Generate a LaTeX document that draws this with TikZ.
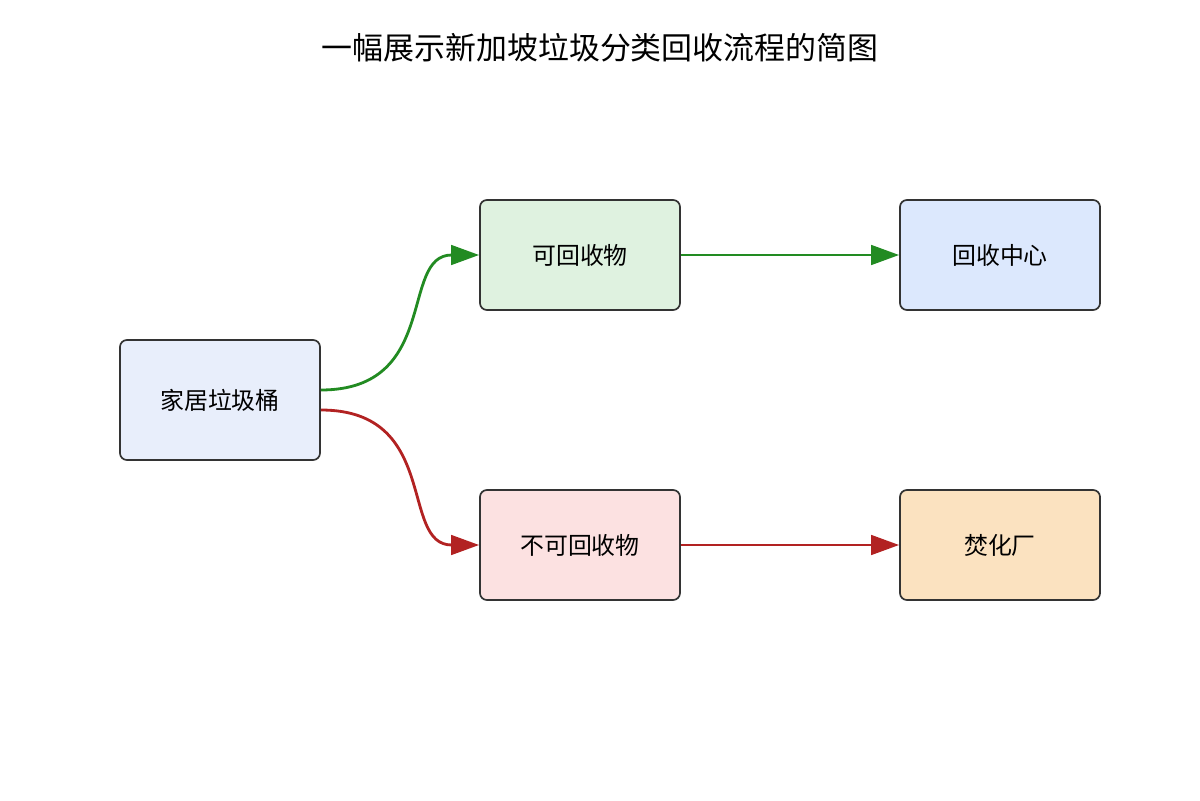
\documentclass[tikz,border=0pt]{standalone}
\usepackage{fontspec}
\setmainfont{Noto Sans CJK SC}
\usetikzlibrary{arrows.meta}
\definecolor{gr}{HTML}{228B22}
\definecolor{rd}{HTML}{B22222}
\definecolor{f1}{HTML}{E8EEFB}
\definecolor{f2}{HTML}{DFF2E0}
\definecolor{f3}{HTML}{DCE8FD}
\definecolor{f4}{HTML}{FCE1E1}
\definecolor{f5}{HTML}{FBE2C0}
\begin{document}
\begin{tikzpicture}[x=0.025cm,y=-0.025cm,
  box/.style={draw=black!80,line width=1.2pt,rounded corners=5pt,minimum width=5cm,minimum height=2.75cm,font=\fontsize{17}{20}\selectfont,inner sep=0pt},
  arr/.style={line width=2pt,-{Triangle[length=20pt,width=14pt]}}]
\useasboundingbox (0,0) rectangle (1200,800);
\node[font=\fontsize{22}{26}\selectfont] (t) at (600,48) {一幅展示新加坡垃圾分类回收流程的简图};
\node[box,fill=f1,minimum height=3cm] (bin) at (220,400) {家居垃圾桶};
\node[box,fill=f2] (rec) at (580,255) {可回收物};
\node[box,fill=f3] (cen) at (1000,255) {回收中心};
\node[box,fill=f4] (non) at (580,545) {不可回收物};
\node[box,fill=f5] (inc) at (1000,545) {焚化厂};
\draw[arr,gr] ([yshift=0.25cm]bin.east) .. controls +(3cm,0) and +(-2cm,0) .. (rec.west);
\draw[arr,rd] ([yshift=-0.25cm]bin.east) .. controls +(3cm,0) and +(-2cm,0) .. (non.west);
\draw[arr,gr] (rec.east) -- (cen.west);
\draw[arr,rd] (non.east) -- (inc.west);
\end{tikzpicture}
\end{document}
